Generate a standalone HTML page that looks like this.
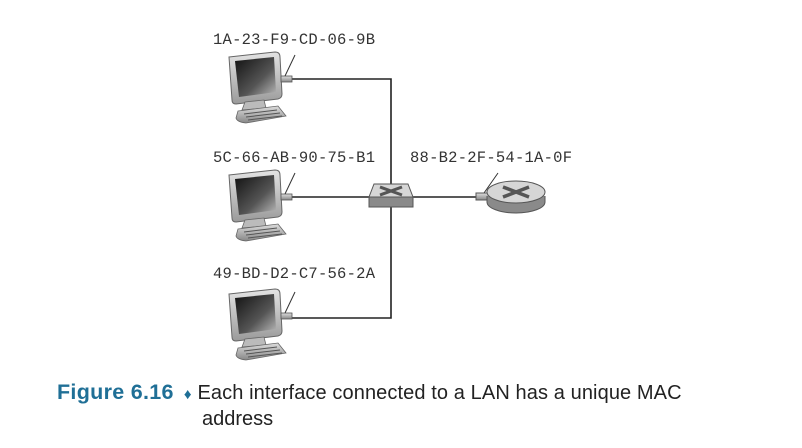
<!DOCTYPE html>
<html><head><meta charset="utf-8"><style>
body{margin:0;background:#fff;width:802px;height:448px;overflow:hidden;position:relative}
.cap{position:absolute;left:57px;top:380px;font-family:"Liberation Sans",sans-serif;font-size:20px;color:#222;line-height:24px;white-space:nowrap}
.fig{color:#1f6f96;font-weight:bold;font-size:21.5px;letter-spacing:0.3px}
.dia{color:#1f6f96;font-size:15px;margin:0 6px 0 10px}
.t{position:absolute;left:145px;top:0}
</style></head><body>
<svg width="802" height="448" style="position:absolute;left:0;top:0">
<defs>
<linearGradient id="scr" x1="0" y1="0" x2="1" y2="1"><stop offset="0" stop-color="#111"/><stop offset="0.6" stop-color="#555"/><stop offset="1" stop-color="#bbb"/></linearGradient>
<linearGradient id="bez" x1="0" y1="0" x2="0" y2="1"><stop offset="0" stop-color="#e4e4e4"/><stop offset="1" stop-color="#9a9a9a"/></linearGradient>
<linearGradient id="met" x1="0" y1="0" x2="0" y2="1"><stop offset="0" stop-color="#ddd"/><stop offset="1" stop-color="#888"/></linearGradient>
<g id="pc">
<path d="M1,5 L47,0 Q52,0 52,5 L54,42 Q54,46 50,47 L8,52 Q4,52 4,48 Z" fill="url(#bez)" stroke="#666" stroke-width="1"/>
<path d="M7,9 L46,5 L48,40 L11,45 Z" fill="url(#scr)"/>
<path d="M17,50 L36,48 L38,56 L14,58 Z" fill="#bbb" stroke="#666" stroke-width="0.8"/>
<path d="M10,59 L50,54 L58,64 L18,71 Q9,70 8,66 Z" fill="url(#met)" stroke="#666" stroke-width="0.8"/>
<path d="M16,62 L49,58 M18,65 L52,61 M20,68 L54,64" stroke="#555" stroke-width="1"/>
<rect x="53" y="24" width="11" height="6" fill="url(#met)" stroke="#555" stroke-width="0.8"/>
</g>
</defs>
<g stroke="#222" stroke-width="1.6" fill="none">
<path d="M292,79 H391 V318 H292"/>
<path d="M292,197 H372 M411,197 H478"/>
</g>
<use href="#pc" x="228" y="52"/>
<use href="#pc" x="228" y="170"/>
<use href="#pc" x="228" y="289"/>
<g stroke="#333" stroke-width="1">
<line x1="295" y1="55" x2="285" y2="76"/>
<line x1="295" y1="173" x2="285" y2="194"/>
<line x1="295" y1="292" x2="285" y2="313"/>
<line x1="498" y1="173" x2="484" y2="193"/>
</g>
<path d="M374,184 L408,184 L413,197 L369,197 Z" fill="#d6d6d6" stroke="#555"/>
<rect x="369" y="197" width="44" height="10" fill="#8a8a8a" stroke="#555"/>
<path d="M380,187 L402,195 M380,195 L402,187" stroke="#555" stroke-width="3"/>
<rect x="476" y="193" width="14" height="7" fill="url(#met)" stroke="#555"/>
<path d="M487,196 V202 A29,11 0 0 0 545,202 V196" fill="#8a8a8a" stroke="#555"/>
<ellipse cx="516" cy="192" rx="29" ry="11" fill="#d6d6d6" stroke="#555"/>
<path d="M503,187 L529,197 M503,197 L529,187" stroke="#555" stroke-width="3.5"/>
<g font-family="Liberation Mono, monospace" font-size="15.5" fill="#333">
<text x="213" y="44" textLength="162">1A-23-F9-CD-06-9B</text>
<text x="213" y="162" textLength="162">5C-66-AB-90-75-B1</text>
<text x="410" y="162" textLength="162">88-B2-2F-54-1A-0F</text>
<text x="213" y="278" textLength="162">49-BD-D2-C7-56-2A</text>
</g>
</svg>
<div class="cap"><span class="fig">Figure 6.16</span><span class="dia">♦</span><span style="letter-spacing:0.1px">Each interface connected to a LAN has a unique MAC</span><br><span style="padding-left:145px">address</span></div>
</body></html>
